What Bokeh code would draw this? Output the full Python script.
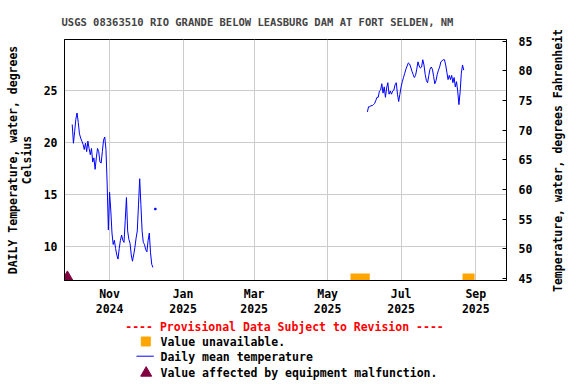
import math
import pandas as pd
from bokeh.plotting import figure
from bokeh.models import Range1d, LinearAxis, FixedTicker
from bokeh.layouts import column, row
from bokeh.embed import file_html
from bokeh.resources import INLINE
from bokeh.core.properties import value

# ---------------- data ----------------
title_text = "USGS 08363510 RIO GRANDE BELOW LEASBURG DAM AT FORT SELDEN, NM"
left_label = "DAILY Temperature, water, degrees\nCelsius"
right_label = "Temperature, water, degrees Fahrenheit"

seg1_start = "2024-10-01"
seg1_temp = [21.7, 19.9, 21.0, 22.2, 22.8, 21.9, 20.8, 20.4, 20.1, 19.8,
             19.3, 19.9, 19.1, 20.1, 19.4, 18.8, 19.4, 18.1, 18.5, 17.4,
             18.5, 19.4, 19.1, 18.1, 18.0, 19.1, 20.2, 20.5, 19.3, 16.0,
             11.6, 15.2, 13.5, 11.3, 10.2, 10.6, 9.8, 9.2, 8.8, 9.8,
             10.6, 11.1, 10.6, 10.4, 12.5, 14.7, 11.5, 10.7, 10.3, 9.2,
             8.6, 9.2, 9.9, 10.8, 11.5, 14.0, 16.5, 14.0, 11.5, 10.4,
             10.2, 9.7, 9.5, 10.6, 11.3, 9.4, 8.3, 8.0]

seg2_start = "2025-06-03"
seg2_temp = [22.9, 23.4, 23.4, 23.5, 23.5, 23.6, 23.7, 24.0, 24.3, 24.3,
             24.9, 25.0, 25.6, 24.7, 25.3, 24.3, 25.2, 25.7, 24.6, 24.9,
             24.6, 24.9, 25.0, 25.5, 25.7, 24.6, 23.9, 24.6,
             25.3, 25.8, 26.2, 26.6, 27.0, 27.3, 27.6, 27.5, 27.2, 26.8,
             26.5, 26.2, 26.4, 27.0, 27.7, 27.3, 27.1, 27.2, 27.9, 27.4,
             26.5, 25.9, 25.7, 26.4, 27.0, 27.2, 27.0, 26.3, 25.6, 25.9,
             26.5, 26.9, 27.2, 27.7, 27.8, 27.9,
             27.9, 27.4, 26.7, 26.0, 26.4, 26.0, 26.4, 25.7, 26.2, 25.3,
             25.8, 24.9, 23.6, 24.8, 26.6, 27.4, 26.9]

isolated_dates = ["2024-12-09"]
isolated_temp = [13.6]

unavail_start = ["2025-05-20", "2025-08-21"]
unavail_end = ["2025-06-05", "2025-08-31"]

malfunction_dates = ["2024-09-27"]

x_tick_dates = ["2024-11-01", "2025-01-01", "2025-03-01", "2025-05-01",
                "2025-07-01", "2025-09-01"]
x_tick_labels = ["Nov\n2024", "Jan\n2025", "Mar\n2025", "May\n2025",
                 "Jul\n2025", "Sep\n2025"]
c_ticks = [10, 15, 20, 25]
f_ticks = [45, 50, 55, 60, 65, 70, 75, 80, 85]

legend_title = "---- Provisional Data Subject to Revision ----"
legend_labels = ["Value unavailable.", "Daily mean temperature",
                 "Value affected by equipment malfunction."]

# ---------------- styling ----------------
FONT = "DejaVu Sans Mono"
FS = "11.5px"
BLUE = "#0000ff"
ORANGE = "#ffa500"
MAROON = "#800040"
GRID = "#cccccc"

def ms(d):
    return pd.Timestamp(d).value / 1e6

x0 = ms("2024-09-24 14:00")
x1 = ms("2025-09-26 12:00")
y0, y1 = 6.75, 29.84

p = figure(width=550, height=318, output_backend="svg", toolbar_location=None,
           x_axis_type="datetime",
           x_range=Range1d(x0, x1), y_range=Range1d(y0, y1),
           min_border_left=64, min_border_right=44,
           min_border_top=39, min_border_bottom=37)
p.extra_y_ranges = {"F": Range1d(44.66, 85.29)}

p.title.text = title_text
p.title.align = "left"
p.title.offset = -3
p.title.text_font = FONT
p.title.text_font_size = "10.5px"
p.title.text_font_style = "bold"
p.title.standoff = 24

p.outline_line_color = "black"
p.outline_line_alpha = 1.0

# x axis
xa = p.xaxis[0]
xa.ticker = FixedTicker(ticks=[ms(d) for d in x_tick_dates], minor_ticks=[])
xa.major_label_overrides = {ms(d): lab for d, lab in zip(x_tick_dates, x_tick_labels)}
xa.major_label_standoff = 6
xa.major_label_text_line_height = 1.08

# left axis
ya = p.yaxis[0]
ya.ticker = FixedTicker(ticks=c_ticks, minor_ticks=[])
ya.major_label_standoff = 7
ya.axis_label = left_label
ya.axis_label_standoff = 7
ya.axis_label_text_line_height = 0.97

# right axis (label drawn in a side strip so it reads bottom-to-top)
fa = LinearAxis(y_range_name="F", ticker=FixedTicker(ticks=f_ticks, minor_ticks=[]))
fa.major_label_standoff = 12
p.add_layout(fa, "right")

for ax in (xa, ya, fa):
    ax.major_tick_in = 0
    ax.major_tick_out = 0
    ax.minor_tick_in = 0
    ax.minor_tick_out = 0
    ax.major_label_text_font = FONT
    ax.major_label_text_font_size = FS
    ax.major_label_text_font_style = "bold"
    ax.major_label_text_color = "black"
    ax.axis_label_text_font = FONT
    ax.axis_label_text_font_size = FS
    ax.axis_label_text_font_style = "bold"
    ax.axis_label_text_color = "black"
    ax.axis_line_color = "black"
    ax.major_tick_line_color = "black"
fa.major_tick_in = 4

p.xgrid.ticker = FixedTicker(ticks=[ms(d) for d in x_tick_dates])
p.ygrid.ticker = FixedTicker(ticks=c_ticks)
p.xgrid.grid_line_color = GRID
p.ygrid.grid_line_color = GRID

# data
d1 = pd.date_range(seg1_start, periods=len(seg1_temp), freq="D")
d2 = pd.date_range(seg2_start, periods=len(seg2_temp), freq="D")
p.line(d1, seg1_temp, line_color=BLUE, line_width=1)
p.line(d2, seg2_temp, line_color=BLUE, line_width=1)
p.scatter(pd.to_datetime(isolated_dates), isolated_temp, marker="square",
          size=1.5, color=BLUE)

p.quad(left=pd.to_datetime(unavail_start), right=pd.to_datetime(unavail_end),
       bottom=[y0] * len(unavail_start), top=[y0 + 0.68] * len(unavail_start),
       fill_color=ORANGE, line_color=None)

p.scatter(pd.to_datetime(malfunction_dates), [y0 + 0.2] * len(malfunction_dates),
          marker="triangle", size=13, color=MAROON)

# ---------------- right label strip ----------------
rf = figure(width=26, height=318, output_backend="svg", toolbar_location=None,
            x_range=Range1d(0, 26), y_range=Range1d(318, 0), min_border=0)
rf.axis.visible = False
rf.grid.visible = False
rf.outline_line_color = None
rf.text(x=[7], y=[160], text=[right_label], angle=math.pi / 2,
        text_align="center", text_baseline="middle", text_color="black",
        text_font=value(FONT), text_font_size=FS, text_font_style="bold")

# ---------------- legend figure ----------------
lg = figure(width=576, height=66, output_backend="svg", toolbar_location=None,
            x_range=Range1d(0, 576), y_range=Range1d(66, 0), min_border=0)
lg.axis.visible = False
lg.grid.visible = False
lg.outline_line_color = None

lg.text(x=[284], y=[8.7], text=[legend_title], text_align="center",
        text_baseline="middle", text_color="red", text_font=value(FONT),
        text_font_size=FS, text_font_style="bold")
lg.scatter(x=[145.3], y=[23], marker="square", size=9, color=ORANGE)
lg.line(x=[136, 153.3], y=[37.7, 37.7], line_color=BLUE, line_width=1)
lg.scatter(x=[145.7], y=[54.5], marker="triangle", size=11, color=MAROON)
lg.text(x=[160, 160, 160], y=[23.2, 38.7, 54.7], text=legend_labels,
        text_align="left", text_baseline="middle", text_color="black",
        text_font=value(FONT), text_font_size=FS, text_font_style="bold")

for f in (p, rf, lg):
    if "frame_align" in f.properties():
        f.frame_align = False

layout = column(row(p, rf, spacing=0), lg, spacing=0)
open("out.html", "w").write(file_html(layout, INLINE))
